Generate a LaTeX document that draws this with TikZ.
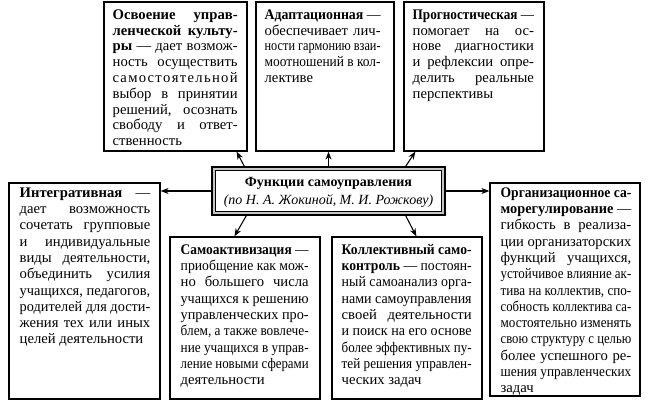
\documentclass[tikz,border=0pt]{standalone}
\usepackage{fontspec}
\usepackage{graphicx}
\setmainfont{Liberation Serif}
\usetikzlibrary{arrows.meta,calc,fit,shadows}
\newcommand\JL[1]{\setbox0=\hbox{#1}\ifdim\wd0>\hsize\hbox to\hsize{\resizebox{\hsize}{\height}{#1}}\else\hbox to\hsize{#1}\fi}
\newcommand\LL[1]{\hbox{#1}}
\newcommand\TB[2]{\vtop{\hsize=#1\relax #2}}
\begin{document}
\begin{tikzpicture}[x=0.75pt,y=-0.75pt,
  box/.style={draw=black, line width=0.9pt, fill=white, inner sep=0pt,
    drop shadow={shadow xshift=0.8pt, shadow yshift=-0.8pt, fill=black, opacity=0.8}},
  txt/.style={inner sep=0pt, anchor=base west, font=\fontsize{11}{12.2}\selectfont},
  txttop/.style={txt, font=\fontsize{11}{11.85}\selectfont},
  arr/.style={-{Stealth[length=6pt,width=4.5pt]}, line width=0.8pt},
]
\useasboundingbox (0,0) rectangle (656,413);
\fill[white] (0,0) rectangle (656,413);

% boxes
\node[box, fit={(104,2) (247,151)}] (b1) {};
\node[box, fit={(256,2) (394,151)}] (b2) {};
\node[box, fit={(404,2) (544,151)}] (b3) {};
\node[box, fit={(9,183) (160,399)}] (bi) {};
\node[box, fit={(170,237) (320,399)}] (bs) {};
\node[box, fit={(332,237) (482,399)}] (bk) {};
\node[box, fit={(490,183) (640,396)}] (bo) {};

% centre
\node[fit={(212,167) (445,215)}, draw, line width=1pt, fill=gray!45, inner sep=0pt,
  drop shadow={shadow xshift=0.8pt, shadow yshift=-0.8pt, fill=black, opacity=0.8}] (c) {};
\draw[fill=white, line width=0.5pt] ($(c.north west)+(4,4)$) rectangle ($(c.south east)+(-4,-4)$);
\node[align=center, inner sep=0pt, font=\fontsize{10.5}{13.5}\selectfont] (ct) at ($(c.center)+(0,1)$)
  {\textbf{Функции самоуправления}\\\textit{(по Н. А. Жокиной, М. И. Рожкову)}};

% texts
\node[txttop] (t1) at ($(b1.north west)+(9,18)$) {\TB{93.75pt}{%
\JL{\textbf{Освоение управ-}}
\JL{\textbf{ленческой культу-}}
\JL{\textbf{ры} — дает возмож-}
\JL{ность осуществить}
\JL{с\hfil а\hfil м\hfil о\hfil с\hfil т\hfil о\hfil я\hfil т\hfil е\hfil л\hfil ь\hfil н\hfil о\hfil й}
\JL{выбор в принятии}
\JL{решений, осознать}
\JL{свободу и ответ-}
\LL{ственность}}};

\node[txttop] (t2) at ($(b2.north west)+(9,18)$) {\TB{87pt}{%
\JL{\textbf{Адаптационная} —}
\JL{обеспечивает лич-}
\JL{ности гармонию взаи-}
\JL{моотношений в кол-}
\LL{лективе}}};

\node[txttop] (t3) at ($(b3.north west)+(9,18)$) {\TB{91pt}{%
\JL{\textbf{Прогностическая} —}
\JL{помогает на ос-}
\JL{нове диагностики}
\JL{и рефлексии опре-}
\JL{делить реальные}
\LL{перспективы}}};

\node[txt] (ti) at ($(bi.north west)+(11,15)$) {\TB{98pt}{%
\JL{\textbf{Интегративная} —}
\JL{дает возможность}
\JL{сочетать групповые}
\JL{и индивидуальные}
\JL{виды деятельности,}
\JL{объединить усилия}
\JL{учащихся, педагогов,}
\JL{родителей для дости-}
\JL{жения тех или иных}
\LL{целей деятельности}}};

\node[txt] (ts) at ($(bs.north west)+(11,18)$) {\TB{96pt}{%
\JL{\textbf{Самоактивизация} —}
\JL{приобщение как мож-}
\JL{но большего числа}
\JL{учащихся к решению}
\JL{управленческих про-}
\JL{блем, а также вовлече-}
\JL{ние учащихся в управ-}
\JL{ление новыми сферами}
\LL{деятельности}}};

\node[txt] (tk) at ($(bk.north west)+(10,18)$) {\TB{97.5pt}{%
\JL{\textbf{Коллективный само-}}
\JL{\textbf{контроль} — постоян-}
\JL{ный самоанализ орга-}
\JL{нами самоуправления}
\JL{своей деятельности}
\JL{и поиск на его основе}
\JL{более эффективных пу-}
\JL{тей решения управлен-}
\LL{ческих задач}}};

\node[txt] (to) at ($(bo.north west)+(11,15)$) {\TB{98pt}{%
\JL{\textbf{Организационное са-}}
\JL{\textbf{морегулирование} —}
\JL{гибкость в реализа-}
\JL{ции организаторских}
\JL{функций учащихся,}
\JL{устойчивое влияние ак-}
\JL{тива на коллектив, спо-}
\JL{собность коллектива са-}
\JL{мостоятельно изменять}
\JL{свою структуру с целью}
\JL{более успешного ре-}
\JL{шения управленческих}
\LL{задач}}};

% connectors
\draw[arr] ($(c.north west)+(33,0)$) -- ($(b1.south east)+(-11,0)$);
\draw[arr] (c.north) -- (c.north |- b2.south);
\draw[arr] ($(c.north east)+(-40,0)$) -- ($(b3.south west)+(12,0)$);
\draw[arr] (c.west) -- (c.west -| bi.east);
\draw[arr] (c.east) -- (c.east -| bo.west);
\draw[arr] ($(c.south west)+(35,0)$) -- ($(bs.north west)+(65,0)$);
\draw[arr] ($(c.south east)+(-40,0)$) -- ($(bk.north west)+(85,0)$);
\end{tikzpicture}
\end{document}
